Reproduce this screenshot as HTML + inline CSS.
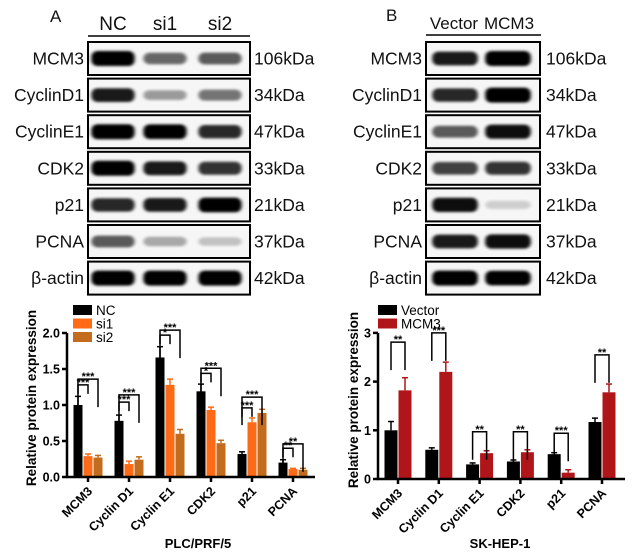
<!DOCTYPE html>
<html><head><meta charset="utf-8">
<style>
body{margin:0;background:#fff;width:636px;height:560px;overflow:hidden;font-family:"Liberation Sans",sans-serif;}
svg{position:absolute;left:0;top:0}
</style></head>
<body>
<svg id="fig" width="636" height="560" viewBox="0 0 636 560">
<defs>
<filter id="bl" x="-20%" y="-100%" width="140%" height="300%"><feGaussianBlur stdDeviation="1.8 1.4"/></filter>
</defs>
<g id="blots"></g>
<g id="chartA"></g>
<g id="chartB"></g>
</svg>
<script>
// ---- Blot data ----
const blotRows = ["MCM3","CyclinD1","CyclinE1","CDK2","p21","PCNA","β-actin"];
const blotKda = ["106kDa","34kDa","47kDa","33kDa","21kDa","37kDa","42kDa"];
const blotA = [[1,0.55,0.6],[0.85,0.35,0.5],[1,0.95,0.8],[1,0.85,0.75],[0.8,0.85,0.95],[0.6,0.3,0.2],[1,1,1]];
const blotB = [[0.85,1],[0.8,1],[0.6,0.9],[0.7,0.75],[0.9,0.15],[0.85,0.9],[1,0.95]];
const NS="http://www.w3.org/2000/svg";
function mk(tag,attrs,parent,text){const e=document.createElementNS(NS,tag);for(const k in attrs)e.setAttribute(k,attrs[k]);if(text!==undefined)e.textContent=text;parent.appendChild(e);return e;}

const blots=document.getElementById('blots');
function panel(x0,x1,lanes,data,labelX,kdaX,prefix){
  for(let i=0;i<blotRows.length;i++){
    const y=42+i*36.6, h=33;
    const g=mk('g',{},blots);
    
    
    mk('rect',{x:x0,y:y,width:x1-x0,height:h,fill:'#f6f6f6',stroke:'#000','stroke-width':2},g);
    data[i].forEach((v,j)=>{
      const w=(x1-x0)/lanes.length*0.8;
      mk('rect',{x:lanes[j]-w/2,y:y+h/2-(3.5+4*v),width:w,height:2*(3.5+4*v),rx:6,fill:'#000',opacity:Math.min(1,v*1.05),filter:'url(#bl)'},g);
    });
    const t=mk('text',{x:labelX,y:y+h/2+6,'text-anchor':'end','font-size':17.5,fill:'#111'},blots,blotRows[i]);
    
    const k=mk('text',{x:kdaX,y:y+h/2+6,'font-size':17.5,fill:'#111'},blots,blotKda[i]);
    
  }
}
panel(88,250,[113,165,220],blotA,84,254,'a');
panel(426,540,[455,508],blotB,422,546,'b');
mk('line',{x1:88,y1:36,x2:250,y2:36,stroke:'#000','stroke-width':1.5},blots);
mk('line',{x1:426,y1:35,x2:541,y2:35,stroke:'#000','stroke-width':1.5},blots);
[['A',50,22],['NC',113,30],['si1',165,30],['si2',220,30],['B',386,21],['Vector',454,29],['MCM3',509,29]].forEach(([s,x,y],i)=>{
  const t=mk('text',{x:x,y:y,'text-anchor':i==0||i==4?'start':'middle','font-size':i==0||i==4?17:i>4?17:19,fill:'#111'},blots,s);
  
});

// ---- Chart A data ----
const catsA = ["MCM3","Cyclin D1","Cyclin E1","CDK2","p21","PCNA"];
const seriesNamesA = ["NC","si1","si2"];
const ncVals = [1.0,0.78,1.66,1.19,0.32,0.20];
const ncErr = [0.12,0.08,0.15,0.10,0.03,0.04];
const si1Vals = [0.29,0.18,1.28,0.93,0.76,0.11];
const si1Err = [0.03,0.04,0.08,0.04,0.06,0.01];
const si2Vals = [0.27,0.24,0.60,0.47,0.89,0.10];
const si2Err = [0.03,0.04,0.06,0.04,0.05,0.02];
const ticksA = [0,0.5,1.0,1.5,2.0];
const sigInnerA = [1.28,1.04,1.97,1.44,0.96,0.40];
const sigOuterA = [1.36,1.14,2.04,1.51,1.11,0.46];
const sigInnerLabelA = ["***","***","*","*","***","**"];
const sigOuterLabelA = ["***","***","***","***","***","**"];

// ---- Chart B data ----
const catsB = ["MCM3","Cyclin D1","Cyclin E1","CDK2","p21","PCNA"];
const seriesNamesB = ["Vector","MCM3"];
const vecVals = [1.0,0.60,0.30,0.36,0.51,1.17];
const vecErr = [0.18,0.04,0.03,0.03,0.03,0.08];
const mcmVals = [1.82,2.20,0.53,0.55,0.13,1.78];
const mcmErr = [0.26,0.20,0.05,0.05,0.06,0.17];
const ticksB = [0,1,2,3];
const sigB = [2.81,3.0,0.97,0.97,0.94,2.55];
const sigLabelB = ["**","***","**","**","***","**"];

function chart(gid,o){
  const g=document.getElementById(gid);
  const y=v=>o.y0-v*o.ppu;
  const x=i=>o.xc0+i*o.step;
  o.series.forEach((s,si)=>{
    s.vals.forEach((v,i)=>{
      const cx=x(i)+(si-(o.series.length-1)/2)*o.bw;
      const top=y(v), et=y(v+s.err[i]);
      const b=mk('rect',{x:cx-o.bw/2+0.5,y:top,width:o.bw-1,height:o.y0-top,fill:s.color},g);
      
      
      mk('line',{x1:cx,y1:top,x2:cx,y2:et,stroke:s.color,'stroke-width':1.5},g);
      mk('line',{x1:cx-3,y1:et,x2:cx+3,y2:et,stroke:s.color,'stroke-width':1.5},g);
    });
  });
  const ax=mk('g',{},g);
  mk('line',{x1:o.ax,y1:o.y0+1,x2:o.ax,y2:y(o.ticks[o.ticks.length-1]),stroke:'#000','stroke-width':2.5},ax);
  o.ticks.forEach(t=>{
    mk('line',{x1:o.ax-5,y1:y(t),x2:o.ax,y2:y(t),stroke:'#000','stroke-width':2.5},ax);
    mk('text',{x:o.ax-7,y:y(t)+4.5,'text-anchor':'end','font-size':12.5,'font-weight':'bold'},ax,o.tickFmt(t));
  });
  const xa=mk('g',{},g);
  mk('line',{x1:o.ax-1,y1:o.y0,x2:o.axEnd,y2:o.y0,stroke:'#000','stroke-width':2.5},xa);
  o.cats.forEach((c,i)=>{
    mk('line',{x1:x(i),y1:o.y0,x2:x(i),y2:o.y0+5,stroke:'#000','stroke-width':2.5},xa);
    mk('text',{x:x(i)+5,y:o.y0+15,'text-anchor':'end','font-size':12.5,'font-weight':'bold',transform:`rotate(-45 ${x(i)+5} ${o.y0+15})`},xa,c);
  });
  const yt=mk('text',{x:o.ytX,y:o.ytY,'text-anchor':'middle','font-size':13.5,'font-weight':'bold',transform:`rotate(-90 ${o.ytX} ${o.ytY})`},g,'Relative protein expression');
  
  const xt=mk('text',{x:o.xtX,y:548,'text-anchor':'middle','font-size':13,'font-weight':'bold'},g,o.xtitle);
  
  o.sig.forEach(sg=>{
    const sgG=mk('g',{},g);
    sg.levels.forEach((lv,i)=>{
      const x1=x(i)+sg.a*o.bw, x2=x(i)+sg.b*o.bw, yy=y(lv);
      const yl=yy+sg.drop;
      mk('polyline',{points:`${x1},${yl} ${x1},${yy} ${x2},${yy} ${x2},${yl}`,fill:'none',stroke:'#000','stroke-width':1.5},sgG);
      mk('text',{x:(x1+x2)/2,y:yy+1,'text-anchor':'middle','font-size':11,'font-weight':'bold'},sgG,sg.labels[i]);
    });
  });
  o.series.forEach((s,si)=>{
    const lg=mk('g',{},g);
    
    
    mk('rect',{x:o.lx,y:305+si*13.5,width:19,height:10,fill:s.color},lg);
    mk('text',{x:o.lx+23,y:315+si*13.5,'font-size':13.5},lg,s.name);
  });
}
chart('chartA',{y0:477,ppu:72,xc0:88,step:41,bw:10,ax:67,axEnd:315,ticks:ticksA,tickFmt:t=>t.toFixed(1),
  cats:catsA,ytX:36,ytY:398,xtX:198,xtitle:'PLC/PRF/5',lx:73,
  series:[{name:seriesNamesA[0],vals:ncVals,err:ncErr,color:'#000'},{name:seriesNamesA[1],vals:si1Vals,err:si1Err,color:'#ff6a16'},{name:seriesNamesA[2],vals:si2Vals,err:si2Err,color:'#c46c1e'}],
  sig:[{a:-1,b:0,levels:sigInnerA,labels:sigInnerLabelA,drop:9},{a:-1,b:1,levels:sigOuterA,labels:sigOuterLabelA,drop:28}]});
chart('chartB',{y0:479,ppu:48.7,xc0:398,step:40.8,bw:14,ax:378,axEnd:625,ticks:ticksB,tickFmt:t=>String(t),
  cats:catsB,ytX:358,ytY:400,xtX:500,xtitle:'SK-HEP-1',lx:378,
  series:[{name:seriesNamesB[0],vals:vecVals,err:vecErr,color:'#000'},{name:seriesNamesB[1],vals:mcmVals,err:mcmErr,color:'#b0151a'}],
  sig:[{a:-0.5,b:0.5,levels:sigB,labels:sigLabelB,drop:28}]});
</script>
</body></html>
